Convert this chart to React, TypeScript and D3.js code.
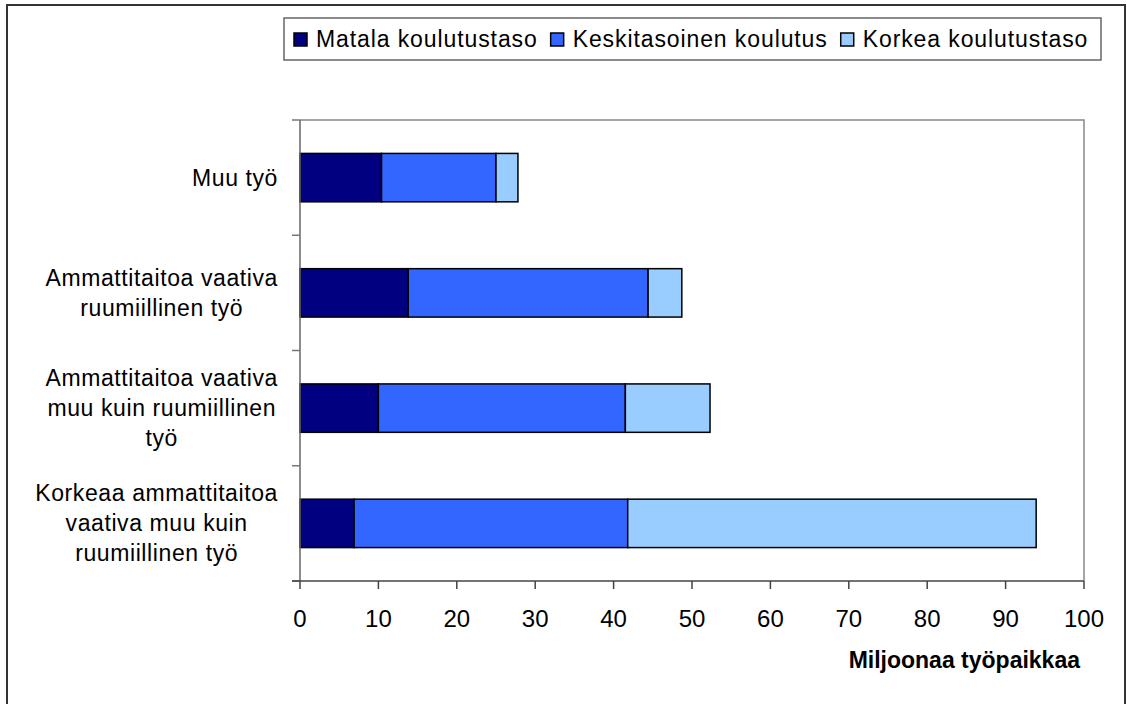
import React from "react";
import * as d3 from "d3";

const width = 1127;
const height = 704;

const categories = [
  "Muu työ",
  "Ammattitaitoa vaativa ruumiillinen työ",
  "Ammattitaitoa vaativa muu kuin ruumiillinen työ",
  "Korkeaa ammattitaitoa vaativa muu kuin ruumiillinen työ",
];
const categoryLines = [
  ["Muu työ"],
  ["Ammattitaitoa vaativa", "ruumiillinen työ"],
  ["Ammattitaitoa vaativa", "muu kuin ruumiillinen", "työ"],
  ["Korkeaa ammattitaitoa", "vaativa muu kuin", "ruumiillinen työ"],
];

const seriesNames = ["Matala koulutustaso", "Keskitasoinen koulutus", "Korkea koulutustaso"];
const matala = [10.4, 13.8, 10.0, 6.9];
const keskitaso = [14.6, 30.6, 31.5, 34.9];
const korkea = [2.8, 4.3, 10.8, 52.1];
const colors = ["#000080", "#3366FF", "#99CCFF"];

const xTicks = [0, 10, 20, 30, 40, 50, 60, 70, 80, 90, 100];
const xTitle = "Miljoonaa työpaikkaa";

const plot = { left: 300, right: 1084, top: 120, bottom: 581 };
const font = "'Liberation Sans', Arial, sans-serif";

const rows = categories.map((c, i) => ({
  cat: c,
  [seriesNames[0]]: matala[i],
  [seriesNames[1]]: keskitaso[i],
  [seriesNames[2]]: korkea[i],
}));

const x = d3.scaleLinear().domain([0, 100]).range([plot.left, plot.right]);
const y = d3
  .scaleBand()
  .domain(categories)
  .range([plot.top, plot.bottom])
  .paddingInner(0.58)
  .paddingOuter(0.29);

const stacked = d3.stack<any>().keys(seriesNames)(rows);

let ctx: CanvasRenderingContext2D | null = null;
const measure = (text: string, f: string) => {
  if (!ctx) ctx = document.createElement("canvas").getContext("2d");
  if (!ctx) return text.length * 11;
  ctx.font = f;
  return ctx.measureText(text).width;
};

export default function App() {
  const step = y.step();
  const bounds = d3.range(categories.length + 1).map((i) => plot.top + i * step);

  // legend layout
  const legendSpacing = 0.9;
  let lx = 294;
  const legendItems = seriesNames.map((name, i) => {
    const w = measure(name, `23px ${font}`) + legendSpacing * name.length;
    const item = { name, x: lx, color: colors[i] };
    lx += 13 + 9 + w + 13;
    return item;
  });

  const lineH = 30;
  const catSpacing = 0.6;

  return (
    <svg
      width={width}
      height={height}
      style={{ position: "absolute", left: 0, top: 0, background: "#fff" }}
      fontFamily={font}
    >
      <rect x={7} y={5} width={1118} height={720} fill="#fff" stroke="#333" strokeWidth={2} />

      {/* legend */}
      <rect x={284} y={18} width={817} height={42} fill="#fff" stroke="#666" strokeWidth={1.5} />
      {legendItems.map((d) => (
        <g key={d.name}>
          <rect x={d.x} y={33} width={13} height={13} fill={d.color} stroke="#000" strokeWidth={1.5} />
          <text x={d.x + 22} y={47} fontSize={23} letterSpacing={legendSpacing} fill="#000">
            {d.name}
          </text>
        </g>
      ))}

      {/* plot border */}
      <path
        d={`M${plot.left},${plot.top}H${plot.right}V${plot.bottom}`}
        fill="none"
        stroke="#888"
        strokeWidth={1.5}
      />

      {/* bars */}
      {stacked.map((s, si) =>
        s.map((d, i) => (
          <rect
            key={`${si}-${i}`}
            x={x(d[0])}
            y={y(categories[i])}
            width={x(d[1]) - x(d[0])}
            height={y.bandwidth()}
            fill={colors[si]}
            stroke="#000"
            strokeWidth={1.5}
          />
        ))
      )}

      {/* y axis */}
      <line x1={plot.left} x2={plot.left} y1={plot.top} y2={plot.bottom} stroke="#666" strokeWidth={1.5} />
      {bounds.map((b, i) => (
        <line key={i} x1={plot.left - 8} x2={plot.left} y1={b} y2={b} stroke="#777" strokeWidth={1.5} />
      ))}
      {categoryLines.map((lines, i) => {
        const maxW =
          d3.max(lines, (l) => measure(l, `23px ${font}`) + catSpacing * l.length) || 0;
        const cx = 278 - maxW / 2;
        const cy = (y(categories[i]) || 0) + y.bandwidth() / 2;
        const first = cy - ((lines.length - 1) * lineH) / 2 + 8;
        return (
          <text key={i} textAnchor="middle" fontSize={23} letterSpacing={catSpacing} fill="#000">
            {lines.map((l, j) => (
              <tspan key={j} x={cx} y={first + j * lineH}>
                {l}
              </tspan>
            ))}
          </text>
        );
      })}

      {/* x axis */}
      <line x1={plot.left - 8} x2={plot.right} y1={plot.bottom} y2={plot.bottom} stroke="#444" strokeWidth={1.5} />
      {xTicks.map((t) => (
        <g key={t}>
          <line x1={x(t)} x2={x(t)} y1={plot.bottom} y2={plot.bottom + 8} stroke="#444" strokeWidth={1.5} />
          <text x={x(t)} y={627} textAnchor="middle" fontSize={24} fill="#000">
            {t}
          </text>
        </g>
      ))}
      <text x={1080} y={668} textAnchor="end" fontSize={23} fontWeight="bold" fill="#000">
        {xTitle}
      </text>
    </svg>
  );
}
